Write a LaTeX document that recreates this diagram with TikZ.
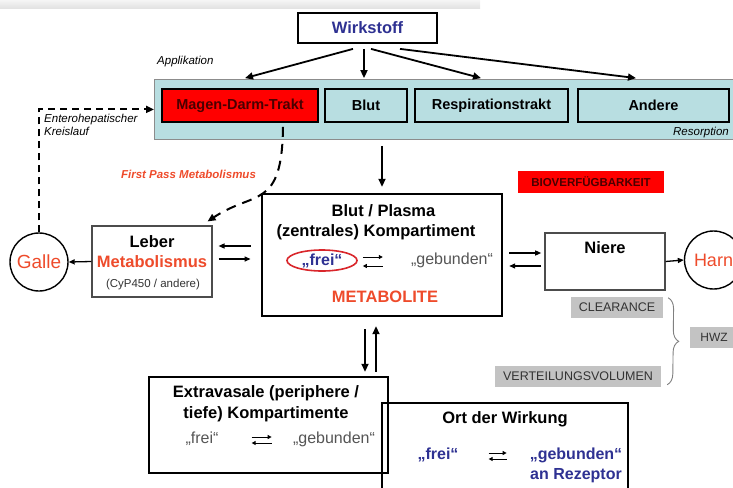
\documentclass[tikz,border=0pt]{standalone}
\usepackage{fontspec}
\setmainfont{Liberation Sans}
\usepackage{xcolor}
\usepackage{tikz}
\usetikzlibrary{positioning, arrows.meta, calc, decorations.pathreplacing, shapes.geometric}
\definecolor{accNavy}{HTML}{2E3192}
\definecolor{accRed}{HTML}{FF0000}
\definecolor{accOrange}{HTML}{EE4B2B}
\definecolor{accRing}{HTML}{D9262B}
\definecolor{bandCyan}{HTML}{B8DEE1}
\definecolor{tagGrey}{HTML}{C3C3C3}
\definecolor{mutedText}{HTML}{555555}
\definecolor{darkRed}{HTML}{4A0000}

\begin{document}
\begin{tikzpicture}[x=1pt, y=-1pt,
  every node/.style={inner sep=0pt, font=\fontsize{16}{19}\selectfont},
  topBox/.style={rectangle, draw=black, line width=1.8pt, fill=white,
                 minimum width=139pt, minimum height=30pt,
                 font=\fontsize{16.5}{20}\selectfont\bfseries, text=accNavy},
  routeB/.style={rectangle, draw=black, line width=1.8pt, fill=bandCyan,
                 minimum height=33pt, font=\fontsize{14.5}{17}\selectfont\bfseries},
  mainB/.style={rectangle, draw=black, line width=2.4pt},
  thinBox/.style={rectangle, draw=black!70, line width=1.1pt, fill=white},
  endC/.style={circle, draw=black, line width=1.4pt, minimum size=58pt,
               font=\fontsize{19}{22}\selectfont, text=accOrange},
  greyTag/.style={rectangle, fill=tagGrey, minimum height=21pt,
                  font=\fontsize{12.5}{15}\selectfont, text=black!80},
  hdr/.style={font=\fontsize{16.5}{20}\selectfont\bfseries, anchor=base},
  note/.style={font=\fontsize{11.5}{14}\selectfont\itshape, anchor=base west},
  arr/.style={-{Triangle[length=8pt, width=7pt]}, line width=1.8pt},
  arrT/.style={-{Triangle[length=6pt, width=5pt]}, line width=1.3pt},
  eqA/.style={-{Triangle[length=4pt, width=4pt]}, line width=1pt},
  dashA/.style={-{Triangle[length=8pt, width=7pt]}, line width=2pt, dash pattern=on 8pt off 5pt},
]
  \useasboundingbox (0,0) rectangle (733,487);
  \shade[top color=black!4, bottom color=black!12] (0,0) rectangle (480,9);

  % application
  \node[topBox] (wirk) at (367.5,28) {Wirkstoff};
  \node[note] (appl) at (157,64) {Applikation};
  \node[rectangle, draw=black!45, line width=0.8pt, fill=bandCyan, anchor=north west,
        minimum width=590pt, minimum height=60pt] (band) at (154,79) {};
  \node[routeB, fill=accRed, text=darkRed, minimum width=156pt] (mdt) at (240,105.5) {Magen-Darm-Trakt};
  \node[routeB, minimum width=82pt] (blut) at (366,105.5) {Blut};
  \node[routeB, minimum width=153pt] (resp) at (491.5,105.5) {Respirationstrakt};
  \node[routeB, minimum width=151pt] (andere) at (653.5,105.5) {Andere};
  \node[note, anchor=base east] (resorp) at (729,135) {Resorption};

  \draw[arr] ($(wirk.south)+(-14.5,5)$) -- ($(mdt.north)+(5,-10)$);
  \draw[arr] ($(wirk.south)+(-3.5,5)$) -- ($(blut.north)+(-2,-10)$);
  \draw[arr] ($(wirk.south)+(3.5,5)$) -- ($(resp.north)+(-10.5,-10)$);
  \draw[arr] ($(wirk.south)+(32.5,5)$) -- ($(andere.north)+(-17.5,-10)$);

  % central compartment
  \node[mainB, minimum width=240pt, minimum height=122pt] (plasma) at (382,255) {};
  \node[hdr] (plasmaT) at (383.5,216) {Blut / Plasma};
  \node[hdr] (plasmaK) at (376,236) {(zentrales) Kompartiment};
  \node[ellipse, draw=accRing, line width=1.6pt, minimum width=70pt, minimum height=21pt,
        text=accNavy, font=\fontsize{16}{19}\selectfont\bfseries] (frei) at (322,260.5) {„frei“};
  \node[anchor=base, text=mutedText] (geb) at (452,264) {„gebunden“};
  \draw[eqA] ($(frei.east)+(5,-3.5)$) -- ($(frei.east)+(25,-3.5)$);
  \draw[eqA] ($(frei.east)+(25,5.5)$) -- ($(frei.east)+(5,5.5)$);
  \node[hdr, text=accOrange] (metab) at (385,302) {METABOLITE};
  \draw[arr] ($(plasma.north |- band.south)+(0,6)$) -- ($(plasma.north)+(0,-6)$);

  \node[fill=accRed, minimum width=146pt, minimum height=22pt, text=darkRed,
        font=\fontsize{11.5}{14}\selectfont\bfseries] (bio) at (591,182) {BIOVERFÜGBARKEIT};

  % liver and bile
  \node[thinBox, minimum width=120pt, minimum height=71pt] (leber) at (152,261.5) {};
  \node[hdr] (leberT) at (152,247) {Leber};
  \node[hdr, text=accOrange] (leberM) at (152,267) {Metabolismus};
  \node[anchor=base, font=\fontsize{11.5}{14}\selectfont, text=black!80] (leberC) at (153,287) {(CyP450 / andere)};
  \node[endC] (galle) at (39,262) {Galle};
  \draw[arrT] (leber.west) -- (galle.east);
  \draw[arrT] ($(leber.east |- 0,246)+(38,0)$) -- ($(leber.east |- 0,246)+(6,0)$);
  \draw[arrT] ($(leber.east |- 0,259)+(6,0)$) -- ($(leber.east |- 0,259)+(38,0)$);

  \node[note] (entero) at (44,122) {Enterohepatischer};
  \node[note] (kreis) at (44,135) {Kreislauf};
  \draw[dashA, dash pattern=on 7pt off 5pt] (galle.north) |- (band.west);
  \node[font=\fontsize{11.5}{14}\selectfont\bfseries\itshape, text=accOrange, anchor=base] (first) at (188.5,178) {First Pass Metabolismus};
  \draw[dashA, dash pattern=on 10pt off 7pt] ($(mdt.south)+(43,4)$) .. controls (282,210) and (255,190) .. ($(leber.north east)+(-5,-4)$);

  % kidney and urine
  \node[thinBox, minimum width=120pt, minimum height=57pt] (niere) at (605,261.5) {};
  \node[hdr] (niereT) at (605,253) {Niere};
  \node[endC, font=\fontsize{18}{21}\selectfont] (harn) at (713.5,260) {Harn};
  \draw[arrT] (niere.east) -- (harn.west);
  \draw[arrT] ($(plasma.east |- 0,253)+(6,0)$) -- ($(plasma.east |- 0,253)+(38,0)$);
  \draw[arrT] ($(plasma.east |- 0,266)+(38,0)$) -- ($(plasma.east |- 0,266)+(6,0)$);

  \node[greyTag, minimum width=92pt] (clear) at (617,307.5) {CLEARANCE};
  \node[greyTag, minimum width=166pt] (vert) at (578,376) {VERTEILUNGSVOLUMEN};
  \node[greyTag, minimum width=48pt, font=\fontsize{12}{14}\selectfont] (hwz) at (714,337) {HWZ};
  \draw[black!50, line width=0.9pt, decorate, decoration={brace, amplitude=11pt}]
        ($(clear.north east)+(5,1)$) -- ($(vert.south east)+(6,-2)$);

  % peripheral compartments
  \node[mainB, minimum width=239pt, minimum height=96pt] (extra) at (268.5,425) {};
  \node[hdr] (extraT) at (266,397) {Extravasale (periphere /};
  \node[hdr] (extraK) at (266,418) {tiefe) Kompartimente};
  \node[anchor=base, text=mutedText] (exFrei) at (202,443) {„frei“};
  \node[anchor=base, text=mutedText] (exGeb) at (334,443) {„gebunden“};
  \draw[eqA] ($(exFrei.east |- 0,437)+(33,0)$) -- ($(exFrei.east |- 0,437)+(53,0)$);
  \draw[eqA] ($(exFrei.east |- 0,443)+(53,0)$) -- ($(exFrei.east |- 0,443)+(33,0)$);

  \draw[arr] ($(plasma.south)+(-17,12)$) -- ($(plasma.south |- extra.north)+(-17,-4)$);
  \draw[arr] ($(plasma.south |- extra.north)+(-6,-4)$) -- ($(plasma.south)+(-6,9)$);

  \node[mainB, minimum width=246pt, minimum height=97pt] (ort) at (505,451.5) {};
  \node[hdr] (ortT) at (505,423) {Ort der Wirkung};
  \node[anchor=base, text=accNavy, font=\fontsize{16}{19}\selectfont\bfseries] (ortFrei) at (438,459) {„frei“};
  \node[anchor=base, text=accNavy, font=\fontsize{16}{19}\selectfont\bfseries] (ortGeb) at (576,459) {„gebunden“};
  \node[anchor=base, text=accNavy, font=\fontsize{16}{19}\selectfont\bfseries] (ortRez) at (576,479) {an Rezeptor};
  \draw[eqA] ($(ortFrei.east |- 0,453)+(30,0)$) -- ($(ortFrei.east |- 0,453)+(48,0)$);
  \draw[eqA] ($(ortFrei.east |- 0,459)+(48,0)$) -- ($(ortFrei.east |- 0,459)+(30,0)$);
\end{tikzpicture}
\end{document}
